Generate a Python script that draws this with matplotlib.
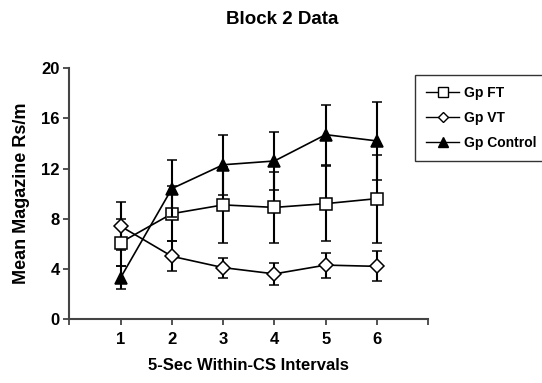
import matplotlib
matplotlib.use("Agg")
import matplotlib.pyplot as plt
from matplotlib.lines import Line2D

plt.rcParams['font.family'] = ['Liberation Sans', 'DejaVu Sans']
plt.rcParams['font.weight'] = 'bold'

intervals = [1, 2, 3, 4, 5, 6]

ft_mean = [6.1, 8.4, 9.1, 8.9, 9.2, 9.6]
ft_err = [1.9, 2.2, 3.0, 2.8, 3.0, 3.5]

vt_mean = [7.4, 5.0, 4.1, 3.6, 4.3, 4.2]
vt_err = [1.9, 1.2, 0.8, 0.85, 1.0, 1.2]

ctrl_mean = [3.3, 10.4, 12.3, 12.6, 14.7, 14.2]
ctrl_err = [0.9, 2.3, 2.4, 2.3, 2.4, 3.1]

fig = plt.figure(figsize=(5.42, 3.83), dpi=100)
ax = fig.add_axes([0.128, 0.167, 0.662, 0.655])

common = dict(color='black', lw=1.2, elinewidth=1.5, capsize=3.5, capthick=1.5,
              markeredgecolor='black', markeredgewidth=1.1)

ax.errorbar(intervals, ft_mean, yerr=ft_err, marker='s', markerfacecolor='white',
            markersize=8, zorder=3, **common)
ax.errorbar(intervals, vt_mean, yerr=vt_err, marker='D', markerfacecolor='white',
            markersize=7, zorder=3, **common)
ax.errorbar(intervals, ctrl_mean, yerr=ctrl_err, marker='^', markerfacecolor='black',
            markersize=9, zorder=4, **common)

ax.set_xlim(0, 7)
ax.set_ylim(0, 20)
ax.set_xticks(range(0, 8))
ax.set_xticklabels([''] + [str(i) for i in intervals] + [''])
ax.set_yticks(range(0, 21, 4))

for s in ['top', 'right']:
    ax.spines[s].set_visible(False)
for s in ['left', 'bottom']:
    ax.spines[s].set_color('#444444')
    ax.spines[s].set_linewidth(1.5)
ax.tick_params(direction='out', length=4, width=1.3, color='#444444', labelsize=12)
ax.tick_params(axis='x', pad=5)
ax.tick_params(axis='y', pad=3)

ax.set_xlabel('5-Sec Within-CS Intervals', fontsize=12, fontweight='bold', labelpad=8)
ax.set_ylabel('Mean Magazine Rs/m', fontsize=13, fontweight='bold', labelpad=8)
fig.suptitle('Block 2 Data', fontsize=13.5, fontweight='bold', x=0.52, y=0.97)

handles = [
    Line2D([], [], color='black', lw=1.0, marker='s', markerfacecolor='white',
           markeredgecolor='black', markersize=7),
    Line2D([], [], color='black', lw=1.0, marker='D', markerfacecolor='white',
           markeredgecolor='black', markersize=5.5),
    Line2D([], [], color='black', lw=1.0, marker='^', markerfacecolor='black',
           markeredgecolor='black', markersize=7.5),
]
labels = ['Gp FT', 'Gp VT', 'Gp Control']
leg = fig.legend(handles, labels, loc='upper left', bbox_to_anchor=(415 / 542, 1 - 75 / 383),
                 borderaxespad=0, frameon=True, fancybox=False, fontsize=10,
                 handlelength=2.4, handletextpad=0.35, labelspacing=0.8,
                 borderpad=0.8)
leg.get_frame().set_edgecolor('black')
leg.get_frame().set_linewidth(1.0)

fig.savefig('out.png', dpi=100)
